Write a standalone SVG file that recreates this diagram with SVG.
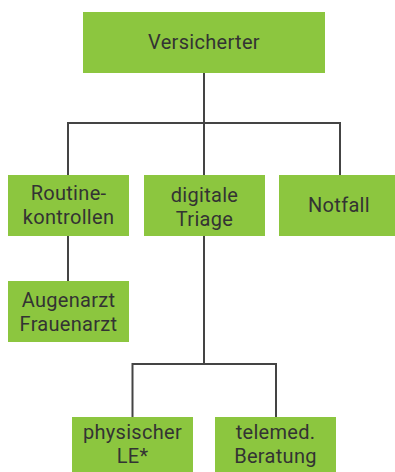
<svg xmlns="http://www.w3.org/2000/svg" width="395" height="472" viewBox="0 0 395 472">
<style>
.box{fill:#8cc63f}
.t{font-family:Roboto,"Liberation Sans",sans-serif;font-size:20px;fill:#333333;text-anchor:middle;letter-spacing:0.3px}
.c{fill:none;stroke:#444444;stroke-width:2}
</style>
<rect width="395" height="472" fill="#ffffff"/>
<g id="connectors">
<path class="c" d="M204 73 V123 M68 123 H340 M68 122 V175 M204 123 V175 M340 122 V175"/>
<path class="c" d="M68 236 V281"/>
<path class="c" d="M204 236 V364 M132.5 364 H276 M132.5 363 V417 M276 363 V417"/>
</g>
<g id="versicherter"><rect class="box" x="83" y="12" width="242" height="61"/><text class="t" x="204" y="49">Versicherter</text></g>
<g id="routine"><rect class="box" x="8" y="175" width="121" height="61"/><text class="t" x="68.5" y="200">Routine-</text><text class="t" x="68.5" y="224">kontrollen</text></g>
<g id="triage"><rect class="box" x="144" y="175" width="121" height="61"/><text class="t" x="204.5" y="202">digitale</text><text class="t" x="204.5" y="226">Triage</text></g>
<g id="notfall"><rect class="box" x="279" y="175" width="116" height="61"/><text class="t" x="339" y="212">Notfall</text></g>
<g id="augenarzt"><rect class="box" x="8" y="281" width="121" height="61"/><text class="t" x="68.5" y="307">Augenarzt</text><text class="t" x="68.5" y="331">Frauenarzt</text></g>
<g id="physischer"><rect class="box" x="72" y="417" width="121" height="55"/><text class="t" x="132.5" y="439">physischer</text><text class="t" x="132.5" y="463">LE*</text></g>
<g id="telemed"><rect class="box" x="215" y="417" width="121" height="55"/><text class="t" x="275.5" y="439">telemed.</text><text class="t" x="275.5" y="463">Beratung</text></g>
</svg>
